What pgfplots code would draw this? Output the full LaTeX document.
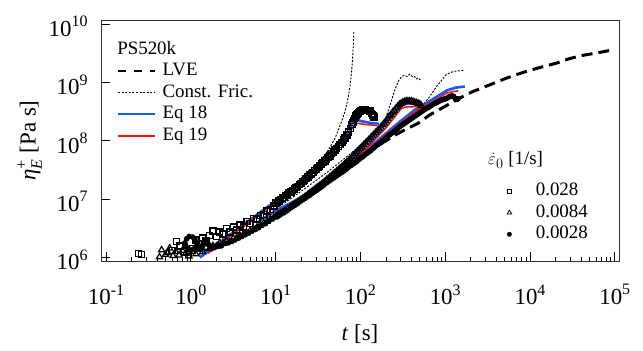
\documentclass[border=0pt]{standalone}
\usepackage{fontspec}
\setmainfont{Liberation Serif}
\usepackage{pgfplots}
\pgfplotsset{compat=1.18}
\definecolor{eqblue}{RGB}{20,90,255}
\definecolor{eqred}{RGB}{240,20,20}
\newcommand{\tl}[1]{10\raisebox{0.42em}{\fontsize{16}{16}\selectfont #1}}
\begin{document}
\begin{tikzpicture}
\path[use as bounding box] (-101bp,-90bp) rectangle (542bp,261bp);
\begin{axis}[
 at={(0,0)}, anchor=south west,
 scale only axis, width=518bp, height=241bp,
 xmin=-1.06, xmax=5.05, ymin=5.94, ymax=10.07,
 axis line style={black!80, line width=0.9bp},
 xtick={-1,0,1,2,3,4,5},
 xticklabels={\tl{-1},\tl{0},\tl{1},\tl{2},\tl{3},\tl{4},\tl{5}},
 ytick={6,7,8,9,10},
 yticklabels={\tl{6},\tl{7},\tl{8},\tl{9},\tl{10}},
 minor xtick={-0.699,-0.523,-0.398,-0.301,-0.222,-0.155,-0.097,-0.046,
  0.301,0.477,0.602,0.699,0.778,0.845,0.903,0.954,
  1.301,1.477,1.602,1.699,1.778,1.845,1.903,1.954,
  2.301,2.477,2.602,2.699,2.778,2.845,2.903,2.954,
  3.301,3.477,3.602,3.699,3.778,3.845,3.903,3.954,
  4.301,4.477,4.602,4.699,4.778,4.845,4.903,4.954},
 xtick pos=bottom, ytick pos=left, tick align=inside,
 major tick length=9bp, minor tick length=4bp,
 every tick/.style={black, line width=0.8bp},
 tick label style={font=\fontsize{23}{26}\selectfont},
 xticklabel style={yshift=-20bp},
 yticklabel style={xshift=-10bp, yshift=-2.5bp},
 label style={font=\fontsize{23}{27}\selectfont},
 xlabel style={yshift=-13bp},
 xlabel={\textit{t} [s]},
 ylabel={$\mbox{\textit{η}}_{\mbox{\fontsize{16}{16}\selectfont\textit{E}}}^{\mbox{\fontsize{16}{16}\selectfont +}}$ [Pa s]},
 legend style={at={(0.031,0.83)}, anchor=north west, draw=none, fill=none,
   font=\fontsize{19}{22}\selectfont, inner sep=0pt, row sep=2bp,
   nodes={inner sep=0.8bp, text height=13.5bp, text depth=4.5bp},
   /tikz/every odd column/.append style={column sep=6bp}},
 legend cell align=left,
 legend image code/.code={\draw[#1] (0bp,0bp) -- (37bp,0bp);},
]
% ---- data: 0.028 (squares)
\addplot[only marks, mark=square, mark size=3bp, black, mark options={line width=1.5bp}, forget plot] coordinates {
(-0.62,6.07)(-0.58,6.05)(-0.22,6.12)(-0.17,6.27)(-0.13,6.20)(-0.08,6.10)(-0.03,6.05)
(0.02,6.15)(0.06,6.30)(0.10,6.22)(0.14,6.33)(0.18,6.28)(0.22,6.38)(0.26,6.45)(0.30,6.36)
(0.34,6.44)(0.38,6.40)(0.42,6.50)(0.46,6.44)(0.50,6.52)(0.54,6.47)(0.58,6.56)(0.62,6.52)
(0.66,6.62)(0.70,6.58)(0.74,6.67)(0.78,6.66)(0.82,6.72)(0.86,6.74)(0.90,6.80)(0.94,6.82)
(0.98,6.88)(1.00,6.93)(1.02,6.94)(1.04,6.97)(1.06,6.99)(1.08,7.02)(1.10,7.03)(1.12,7.06)
(1.14,7.08)(1.16,7.11)(1.18,7.12)(1.20,7.15)(1.22,7.17)(1.24,7.20)(1.26,7.22)(1.28,7.25)
(1.30,7.27)(1.32,7.30)(1.34,7.32)(1.36,7.35)(1.38,7.38)(1.40,7.41)(1.42,7.43)(1.44,7.46)
(1.46,7.49)(1.48,7.52)(1.50,7.54)(1.52,7.57)(1.54,7.60)(1.56,7.63)(1.58,7.65)(1.60,7.68)
(1.62,7.71)(1.64,7.74)(1.66,7.78)(1.68,7.81)(1.70,7.84)(1.72,7.87)(1.74,7.90)(1.76,7.94)
(1.78,7.97)(1.80,8.01)(1.82,8.05)(1.84,8.10)(1.86,8.15)(1.88,8.21)(1.90,8.28)(1.91,8.31)
(1.92,8.35)(1.93,8.38)(1.94,8.41)(1.95,8.43)(1.96,8.45)(1.97,8.47)(1.98,8.48)(1.99,8.50)
(2.00,8.51)(2.01,8.52)(2.02,8.52)(2.03,8.53)(2.04,8.53)(2.05,8.53)(2.06,8.53)(2.07,8.52)
(2.08,8.52)(2.09,8.52)(2.10,8.52)(2.11,8.51)(2.12,8.50)(2.13,8.47)(2.14,8.45)(2.15,8.43)(2.16,8.41)
};
% ---- data: 0.0084 (triangles)
\addplot[only marks, mark=triangle, mark size=3.5bp, black, mark options={line width=1.2bp}, forget plot] coordinates {
(-0.37,6.01)(-0.345,6.13)(-0.30,6.05)(-0.27,6.08)(-0.25,6.16)(-0.21,6.03)(-0.18,6.10)
(-0.14,6.04)(-0.10,6.12)(-0.06,6.07)(-0.02,6.02)(0.02,6.10)(0.06,6.06)(0.10,6.14)
(0.14,6.10)(0.18,6.17)(0.22,6.15)(0.26,6.20)(0.30,6.19)(0.34,6.25)(0.38,6.24)(0.42,6.29)
(0.46,6.27)(0.50,6.33)(0.54,6.34)(0.58,6.37)(0.62,6.40)(0.66,6.42)(0.70,6.46)(0.74,6.49)
(0.78,6.52)(0.82,6.56)(0.86,6.59)(0.90,6.62)(0.94,6.66)(0.98,6.69)
(1.00,6.70)(1.02,6.72)(1.04,6.74)(1.06,6.76)(1.08,6.77)(1.10,6.79)(1.12,6.81)(1.14,6.83)
(1.16,6.85)(1.18,6.87)(1.20,6.89)(1.22,6.91)(1.24,6.93)(1.26,6.95)(1.28,6.97)(1.30,6.99)
(1.32,7.01)(1.34,7.03)(1.36,7.05)(1.38,7.07)(1.40,7.10)(1.42,7.12)(1.44,7.14)(1.46,7.16)
(1.48,7.19)(1.50,7.21)(1.52,7.23)(1.54,7.25)(1.56,7.28)(1.58,7.30)(1.60,7.33)(1.62,7.35)
(1.64,7.38)(1.66,7.40)(1.68,7.43)(1.70,7.45)(1.72,7.48)(1.74,7.50)(1.76,7.53)(1.78,7.55)
(1.80,7.58)(1.82,7.61)(1.84,7.64)(1.86,7.66)(1.88,7.69)(1.90,7.72)(1.92,7.75)(1.94,7.78)
(1.96,7.81)(1.98,7.84)(2.00,7.87)(2.02,7.90)(2.04,7.93)(2.06,7.96)(2.08,7.99)(2.10,8.02)
(2.12,8.05)(2.14,8.08)(2.16,8.11)(2.18,8.14)(2.20,8.17)(2.22,8.20)(2.24,8.23)(2.26,8.27)
(2.28,8.30)(2.30,8.34)(2.32,8.38)(2.34,8.42)(2.36,8.45)(2.38,8.49)(2.40,8.52)(2.42,8.56)
(2.44,8.59)(2.46,8.62)(2.48,8.64)(2.50,8.66)(2.52,8.67)(2.54,8.68)(2.56,8.68)(2.58,8.68)
(2.60,8.68)(2.62,8.67)(2.64,8.66)(2.66,8.65)(2.68,8.64)(2.70,8.63)(2.72,8.60)
};
% ---- data: 0.0028 (filled circles)
\addplot[only marks, mark=*, mark size=2.6bp, black, forget plot] coordinates {
(-0.07,6.25)(-0.05,6.32)(-0.02,6.36)(0.02,6.35)(0.05,6.30)(0.07,6.24)(0.05,6.17)(0.01,6.13)
(-0.03,6.15)(-0.06,6.20)(0.09,6.18)(0.11,6.14)(0.13,6.20)(0.15,6.26)(0.17,6.30)(0.19,6.27)
(0.21,6.22)(0.24,6.19)(0.28,6.17)(0.32,6.21)(0.36,6.20)(0.40,6.24)(0.44,6.25)(0.48,6.28)
(0.52,6.30)(0.56,6.33)(0.60,6.36)(0.64,6.39)(0.68,6.42)(0.72,6.45)(0.76,6.48)(0.80,6.51)
(0.84,6.55)(0.88,6.58)(0.92,6.62)(0.96,6.66)
(1.00,6.70)(1.02,6.72)(1.04,6.73)(1.06,6.75)(1.08,6.77)(1.10,6.79)(1.12,6.81)(1.14,6.83)
(1.16,6.84)(1.18,6.86)(1.20,6.88)(1.22,6.90)(1.24,6.92)(1.26,6.94)(1.28,6.96)(1.30,6.98)
(1.32,7.00)(1.34,7.02)(1.36,7.04)(1.38,7.06)(1.40,7.07)(1.42,7.09)(1.44,7.11)(1.46,7.13)
(1.48,7.15)(1.50,7.17)(1.52,7.19)(1.54,7.21)(1.56,7.23)(1.58,7.26)(1.60,7.28)(1.62,7.30)
(1.64,7.32)(1.66,7.34)(1.68,7.36)(1.70,7.38)(1.72,7.40)(1.74,7.42)(1.76,7.44)(1.78,7.46)
(1.80,7.48)(1.82,7.50)(1.84,7.52)(1.86,7.55)(1.88,7.57)(1.90,7.59)(1.92,7.61)(1.94,7.63)
(1.96,7.65)(1.98,7.68)(2.00,7.70)(2.02,7.72)(2.04,7.74)(2.06,7.77)(2.08,7.79)(2.10,7.81)
(2.12,7.83)(2.14,7.86)(2.16,7.88)(2.18,7.91)(2.20,7.93)(2.22,7.95)(2.24,7.97)(2.26,8.00)
(2.28,8.02)(2.30,8.05)(2.32,8.07)(2.34,8.10)(2.36,8.12)(2.38,8.14)(2.40,8.16)(2.42,8.19)
(2.44,8.21)(2.46,8.24)(2.48,8.26)(2.50,8.28)(2.52,8.30)(2.54,8.32)(2.56,8.34)(2.58,8.36)
(2.60,8.38)(2.62,8.40)(2.64,8.42)(2.66,8.44)(2.68,8.46)(2.70,8.48)(2.72,8.50)(2.74,8.52)
(2.76,8.54)(2.78,8.56)(2.80,8.57)(2.82,8.59)(2.84,8.61)(2.86,8.63)(2.88,8.64)(2.90,8.66)
(2.92,8.67)(2.94,8.69)(2.96,8.70)(2.98,8.71)(3.00,8.72)(3.02,8.73)(3.04,8.75)(3.06,8.76)
(3.08,8.77)(3.10,8.76)(3.12,8.72)(3.14,8.71)(3.15,8.72)
};
% ---- LVE
\addplot[black, line width=3bp, dash pattern=on 11bp off 6bp, forget plot] coordinates {
(0.2,6.10)(0.5,6.31)(1.0,6.70)(1.5,7.17)(2.0,7.69)(2.2,7.91)(2.4,8.09)(2.5,8.17)(2.68,8.30)
(2.818,8.444)(2.995,8.587)(3.172,8.731)(3.325,8.844)(3.526,8.959)(3.723,9.074)
(3.915,9.170)(4.116,9.256)(4.313,9.331)(4.469,9.41)(4.646,9.47)(4.823,9.515)(5.0,9.565)
};
% ---- Const. Fric.
\addplot[black, line width=0.9bp, dash pattern=on 2bp off 1.5bp, forget plot] coordinates {
(0.1,6.05)(0.5,6.45)(1.0,6.98)(1.3,7.33)(1.5,7.62)(1.6,7.79)(1.7,8.04)(1.757,8.25)
(1.8,8.42)(1.83,8.57)(1.855,8.74)(1.875,8.92)(1.89,9.1)(1.905,9.35)(1.915,9.6)(1.922,9.86)
};
\addplot[black, line width=0.9bp, dash pattern=on 2bp off 1.5bp, forget plot] coordinates {
(0.8,6.62)(1.2,7.03)(1.6,7.45)(1.9,7.80)(2.1,8.05)(2.229,8.23)(2.3,8.40)(2.347,8.60)
(2.40,8.85)(2.45,9.03)(2.485,9.10)(2.52,9.12)(2.55,9.10)(2.58,9.14)(2.60,9.12)(2.62,9.09)
(2.64,9.10)(2.66,9.06)(2.68,9.08)(2.70,9.05)(2.72,9.07)
};
\addplot[black, line width=0.9bp, dash pattern=on 2bp off 1.5bp, forget plot] coordinates {
(1.2,6.95)(1.6,7.33)(2.0,7.74)(2.3,8.05)(2.5,8.28)(2.64,8.47)(2.72,8.60)(2.80,8.72)
(2.897,8.93)(3.015,9.14)(3.10,9.19)(3.23,9.21)
};
% ---- Eq 18
\addplot[eqblue, line width=2.6bp, forget plot] coordinates {
(0.106,6.0)(0.5,6.43)(1.0,6.97)(1.285,7.27)(1.6,7.75)(1.757,8.0)(1.85,8.15)(1.914,8.33)
(1.95,8.37)(2.0,8.34)(2.1,8.31)(2.17,8.30)(2.22,8.29)
};
\addplot[eqblue, line width=2.6bp, forget plot] coordinates {
(0.794,6.61)(1.0,6.80)(1.285,7.015)(1.6,7.36)(1.8,7.58)(1.993,7.85)(2.2,8.17)(2.35,8.40)
(2.485,8.616)(2.55,8.635)(2.662,8.645)(2.70,8.65)
};
\addplot[eqblue, line width=2.6bp, forget plot] coordinates {
(1.64,7.40)(1.954,7.73)(2.15,7.94)(2.4,8.25)(2.64,8.53)(2.818,8.68)(3.015,8.86)(3.12,8.91)(3.231,8.93)
};
% ---- Eq 19
\addplot[eqred, line width=1.6bp, forget plot] coordinates {
(0.2,6.07)(0.5,6.40)(1.0,6.93)(1.285,7.22)(1.6,7.68)(1.757,7.93)(1.85,8.10)(1.934,8.28)
(1.97,8.30)(2.05,8.28)(2.146,8.27)(2.20,8.26)
};
\addplot[eqred, line width=1.6bp, forget plot] coordinates {
(1.0,6.77)(1.285,6.99)(1.6,7.33)(2.052,7.844)(2.3,8.22)(2.485,8.56)(2.55,8.58)(2.662,8.587)(2.70,8.59)
};
\addplot[eqred, line width=1.6bp, forget plot] coordinates {
(1.147,6.82)(1.18,6.87)(1.2,6.85)(1.23,6.92)(1.26,6.90)(1.29,6.98)(1.32,6.96)(1.35,7.03)
(1.38,7.02)(1.41,7.08)(1.44,7.07)(1.47,7.14)(1.5,7.13)(1.53,7.20)(1.56,7.22)(1.6,7.27)
(1.8,7.5)(2.0,7.74)(2.2,7.98)(2.4,8.22)(2.6,8.45)(2.70,8.56)(2.854,8.672)(3.015,8.816)
(3.1,8.845)(3.152,8.856)
};
% ---- legend 1
\addlegendimage{black, line width=1.3bp, dash pattern=on 8bp off 8bp}
\addlegendentry{LVE}
\addlegendimage{black, line width=0.9bp, dash pattern=on 2bp off 1.6bp}
\addlegendentry{Const. Fric.}
\addlegendimage{eqblue, line width=1.5bp}
\addlegendentry{Eq 18}
\addlegendimage{color=eqred, line width=1.5bp}
\addlegendentry{Eq 19}
\node[anchor=west, inner sep=0pt, font=\fontsize{19}{22}\selectfont] at (axis description cs:0.031,0.884) {PS520k};
\node[anchor=west, inner sep=0pt, font=\fontsize{19}{22}\selectfont] at (axis description cs:0.747,0.419) {$\dot{\varepsilon}_0$ [1/s]};
\end{axis}
\begin{axis}[
 at={(0,0)}, anchor=south west,
 scale only axis, width=518bp, height=241bp,
 xmin=-1.06, xmax=5.05, ymin=5.94, ymax=10.07,
 hide axis,
 legend style={at={(0.778,0.3315)}, anchor=north west, draw=none, fill=none,
   font=\fontsize{19}{22}\selectfont, inner sep=0pt, row sep=2bp,
   nodes={inner sep=0.8bp, text height=13.5bp, text depth=4.5bp},
   /tikz/every odd column/.append style={column sep=20.4bp}},
 legend cell align=left,
 legend image code/.code={\path (0bp,0bp) (10bp,0bp); \draw[#1] plot coordinates {(5bp,0bp)};},
]
\addlegendimage{only marks, mark=square, mark size=2.2bp, black, mark options={line width=0.8bp}}
\addlegendentry{0.028}
\addlegendimage{only marks, mark=triangle, mark size=2.6bp, black, mark options={line width=0.8bp}}
\addlegendentry{0.0084}
\addlegendimage{only marks, mark=*, mark size=2.2bp, black}
\addlegendentry{0.0028}
\end{axis}
\end{tikzpicture}
\end{document}
